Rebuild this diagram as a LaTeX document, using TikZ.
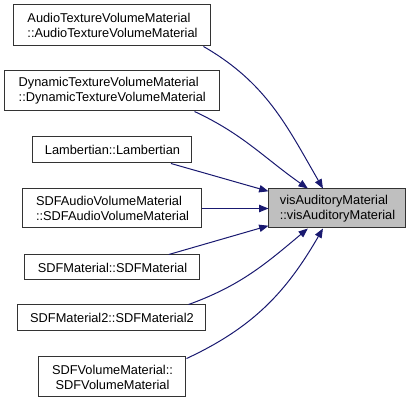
\documentclass[tikz,border=0pt]{standalone}
\usepackage{fontspec}
\setmainfont{Liberation Sans}
\usepackage{tikz}
\usetikzlibrary{positioning, arrows.meta}
\definecolor{edgeBlue}{HTML}{191970}
\definecolor{boxLine} {HTML}{333333}
\definecolor{boxHit}  {HTML}{BFBFBF}

\begin{document}
\begin{tikzpicture}[x=0.75pt, y=-0.75pt,
    fn/.style={draw=boxLine, line width=0.75pt, fill=white, inner sep=0pt,
               font=\fontsize{9.6}{11.3}\selectfont},
    call/.style={draw=edgeBlue, line width=0.75pt,
                 -{Triangle[length=7pt, width=5.5pt]}}]
  \useasboundingbox (0,0) rectangle (412,403);

  % callers
  \node[fn, align=left, minimum width=147.75pt, minimum height=30.75pt]
    (atv) at (112.5, 25.5) {AudioTextureVolumeMaterial\\::AudioTextureVolumeMaterial};
  \node[fn, align=left, minimum width=161.6pt, minimum height=30pt]
    (dtv) at (112.25, 91) {DynamicTextureVolumeMaterial\\::DynamicTextureVolumeMaterial};
  \node[fn, minimum width=119.25pt, minimum height=19.5pt]
    (lam) at (112.5, 150) {Lambertian::Lambertian};
  \node[fn, align=left, minimum width=134.25pt, minimum height=29.25pt]
    (sav) at (112.5, 208.5) {SDFAudioVolumeMaterial\\::SDFAudioVolumeMaterial};
  \node[fn, minimum width=131.25pt, minimum height=18.75pt]
    (sdm) at (112.5, 267.5) {SDFMaterial::SDFMaterial};
  \node[fn, minimum width=141pt, minimum height=19.5pt]
    (sd2) at (112, 318) {SDFMaterial2::SDFMaterial2};
  \node[fn, align=center, minimum width=110.25pt, minimum height=30pt]
    (svm) at (112.5, 377) {SDFVolumeMaterial::\\SDFVolumeMaterial};

  % callee
  \node[fn, fill=boxHit, align=left, minimum width=102.75pt, minimum height=29.25pt]
    (vis) at (337.5, 208.5) {visAuditoryMaterial\\::visAuditoryMaterial};

  \draw[call] (atv.-13) to[out=-30, in=120] (vis.126.6);
  \draw[call] (dtv.-14.4) to[out=-25, in=145] (vis.146.5);
  \draw[call] (lam.-13.2) -- (vis.166);
  \draw[call] (sav) -- (vis);
  \draw[call] (sdm.13.2) -- (vis.-166);
  \draw[call] (sd2.10.2) to[out=20, in=-140] (vis.-146.5);
  \draw[call] (svm.14.5) to[out=25, in=-120] (vis.-126.6);
\end{tikzpicture}
\end{document}
